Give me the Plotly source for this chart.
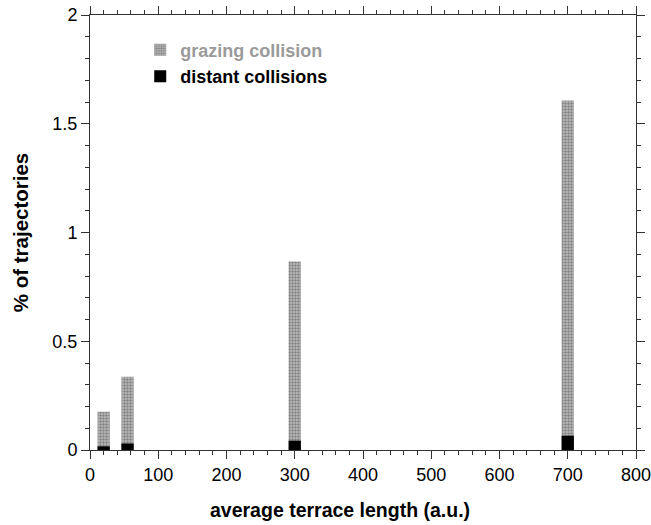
import plotly.graph_objects as go

terrace_length = [20, 55, 300, 700]
grazing = [0.176, 0.337, 0.867, 1.607]
distant = [0.017, 0.030, 0.043, 0.066]

x_ticks = [0, 100, 200, 300, 400, 500, 600, 700, 800]
y_ticks = [0, 0.5, 1, 1.5, 2]
y_tick_labels = ["0", "0.5", "1", "1.5", "2"]

font_family = "Liberation Sans, Arial, Helvetica, sans-serif"

fig = go.Figure()
fig.add_trace(go.Bar(
    x=terrace_length, y=grazing, width=18,
    name="<b><span style='color:#9a9a9a'>grazing collision</span></b>",
    marker=dict(color="#b0b0b0", line=dict(width=0),
                pattern=dict(shape=".", fgcolor="#4a4a4a", bgcolor="#bdbdbd",
                             size=3, solidity=0.5)),
))
fig.add_trace(go.Bar(
    x=terrace_length, y=distant, width=18,
    name="<b>distant collisions</b>",
    marker=dict(color="#000000", line=dict(width=0)),
))

axis_common = dict(
    showline=True, linecolor="#333333", linewidth=1,
    ticks="outside", tickcolor="#333333", ticklen=8, tickwidth=1,
    mirror="ticks", showgrid=False, zeroline=False, automargin=False,
    ticklabeloverflow="allow",
    tickfont=dict(family=font_family, size=18, color="#000"),
)

fig.update_xaxes(
    range=[0, 800], tickvals=x_ticks,
    minor=dict(dtick=20, ticks="outside", ticklen=4, tickcolor="#333333", showgrid=False),
    **axis_common,
)
fig.update_yaxes(
    range=[0, 2], tickvals=y_ticks, ticktext=y_tick_labels,
    minor=dict(dtick=0.1, ticks="outside", ticklen=4, tickcolor="#333333", showgrid=False),
    title=dict(text="<b>% of trajectories</b>",
               font=dict(family=font_family, size=20.5, color="#000"), standoff=18),
    **axis_common,
)

fig.add_annotation(
    text="<b>average terrace length (a.u.)</b>",
    xref="paper", yref="paper", x=0.458, y=-0.138,
    xanchor="center", yanchor="middle", showarrow=False,
    font=dict(family=font_family, size=19.5, color="#000"),
)

fig.update_layout(
    width=651, height=525,
    margin=dict(l=90, r=15, t=15, b=75),
    barmode="overlay",
    plot_bgcolor="white", paper_bgcolor="white",
    showlegend=True,
    legend=dict(x=0.092, y=0.962, xanchor="left", yanchor="top",
                bgcolor="rgba(0,0,0,0)", font=dict(family=font_family, size=18, color="#000"),
                itemwidth=30, tracegroupgap=4),
    font=dict(family=font_family),
)

fig.write_html("out.html")
